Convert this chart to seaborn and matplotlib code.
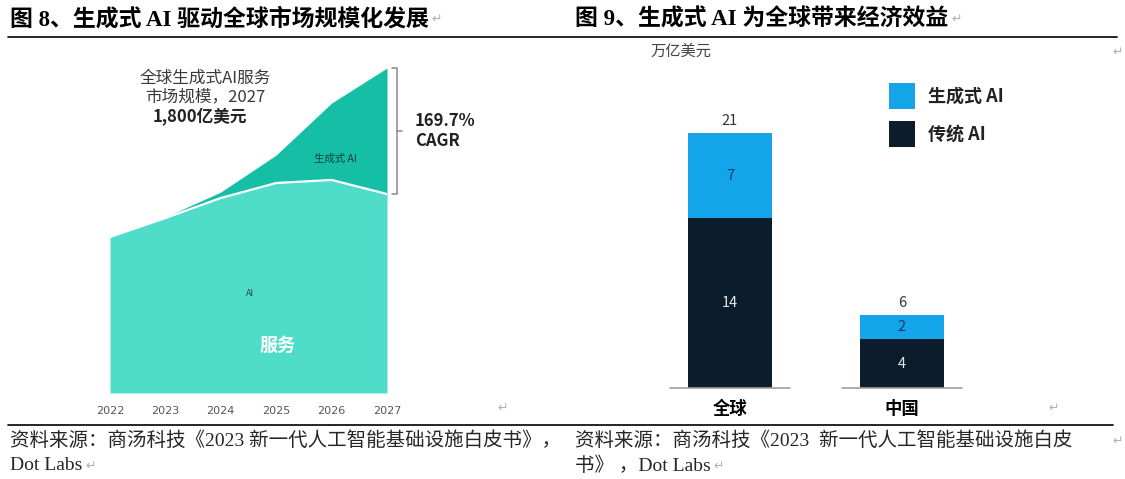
import matplotlib
matplotlib.use("Agg")
import matplotlib.pyplot as plt
from matplotlib.patches import Rectangle
import seaborn as sns
import pandas as pd

# ---------------- data ----------------
years = [2022, 2023, 2024, 2025, 2026, 2027]
service_ai = [864, 969, 1080, 1163, 1180, 1102]      # 亿美元 (AI 服务, lower layer)
generative_ai = [0, 6, 33, 155, 426, 698]            # 亿美元 (生成式 AI, upper layer)

regions = ["全球", "中国"]
traditional = [14, 4]      # 万亿美元
generative = [7, 2]        # 万亿美元
legend_labels = ["生成式 AI", "传统 AI"]

title_left = "图 8、生成式 AI 驱动全球市场规模化发展"
title_right = "图 9、生成式 AI 为全球带来经济效益"
source_left = ["资料来源：商汤科技《2023 新一代人工智能基础设施白皮书》，", "Dot Labs"]
source_right = ["资料来源：商汤科技《2023  新一代人工智能基础设施白皮", "书》 ，Dot Labs"]

# ---------------- style ----------------
sns.set_theme(style="white")
plt.rcParams["font.family"] = ["Noto Sans CJK SC", "DejaVu Sans"]

W, H = 1125, 479
fig = plt.figure(figsize=(W / 100, H / 100), dpi=100)
fig.patch.set_facecolor("white")

def fx(px):
    return px / W

def fy(py):
    return 1 - py / H

TITLE_FAM = ["Liberation Serif", "Noto Sans CJK SC"]
SRC_FAM = ["Liberation Serif", "Noto Sans CJK SC"]
ARROW_COL = "#b0b0b0"

def para_mark(artist, dx=2):
    plt.annotate("\u21b5", xy=(1, 0.5), xycoords=artist, xytext=(dx, 0),
                 textcoords="offset points", family=["DejaVu Sans"], fontsize=9,
                 color=ARROW_COL, va="center", ha="left", annotation_clip=False)

def free_mark(px, py):
    fig.text(fx(px), fy(py), "\u21b5", family=["DejaVu Sans"], fontsize=9, color=ARROW_COL,
             va="center", ha="left")

# titles and rules
t1 = fig.text(fx(10), fy(19), title_left, family=TITLE_FAM, fontsize=16.5, fontweight="bold",
              va="center", ha="left", color="black")
t2 = fig.text(fx(575), fy(19), title_right, family=TITLE_FAM, fontsize=16.5, fontweight="bold",
              va="center", ha="left", color="black")
fig.add_artist(plt.Line2D([fx(8), fx(1117)], [fy(37), fy(37)], color="black", lw=1.2))
fig.add_artist(plt.Line2D([fx(8), fx(1113)], [fy(425), fy(425)], color="black", lw=1.2))

# sources
s1 = fig.text(fx(10), fy(441), source_left[0], family=SRC_FAM, fontsize=14, va="center", ha="left")
s2 = fig.text(fx(10), fy(466), source_left[1], family=SRC_FAM, fontsize=14, va="center", ha="left")
s3 = fig.text(fx(575), fy(441), source_right[0], family=SRC_FAM, fontsize=14, va="center", ha="left")
s4 = fig.text(fx(575), fy(466), source_right[1], family=SRC_FAM, fontsize=14, va="center", ha="left")

# ---------------- left: stacked area ----------------
C_LO = "#4FDCC9"
C_HI = "#15BFA6"
axL = fig.add_axes([fx(110), 1 - 393 / H, 277 / W, 325 / H])
total = [s + g for s, g in zip(service_ai, generative_ai)]
axL.fill_between(years, 0, service_ai, color=C_LO, lw=0)
axL.fill_between(years, service_ai, total, color=C_HI, lw=0)
sns.lineplot(x=years, y=service_ai, ax=axL, color="white", lw=1.6)
axL.set_xlim(years[0], years[-1])
axL.set_ylim(0, 1800)
axL.set_xticks(years)
axL.set_xticklabels([str(y) for y in years], fontsize=8, color="#555555", family=["DejaVu Sans"])
axL.tick_params(axis="x", length=0, pad=9)
axL.set_yticks([])
for sp in axL.spines.values():
    sp.set_visible(False)
axL.patch.set_alpha(0)

def lx(px):
    return years[0] + (px - 110) / 277 * (years[-1] - years[0])

def ly(py):
    return (393 - py) / 325 * 1800

# bracket for CAGR
bx = lx(397)
axL.plot([lx(392), bx, bx, lx(392)], [total[-1], total[-1], service_ai[-1], service_ai[-1]],
         color="#8a8a8a", lw=1.1, clip_on=False)
mid = (total[-1] + service_ai[-1]) / 2
axL.plot([bx, lx(402)], [mid, mid], color="#8a8a8a", lw=1.1, clip_on=False)
axL.text(lx(415), mid, "169.7%\nCAGR", fontsize=12, fontweight="bold", color="#222222",
         ha="left", va="center", linespacing=1.15, clip_on=False)

# annotation
axL.text(lx(205), ly(78), "全球生成式AI服务", fontsize=12, color="#3a3a3a", ha="center", va="center")
axL.text(lx(205), ly(97), "市场规模，2027", fontsize=12, color="#3a3a3a", ha="center", va="center")
axL.text(lx(200), ly(117), "1,800亿美元", fontsize=12, fontweight="bold", color="#222222",
         ha="center", va="center")
axL.text(lx(335), ly(159), "生成式 AI", fontsize=7.5, color="#17403a", ha="center", va="center")
axL.text(lx(250), ly(293), "AI", fontsize=6.5, color="#2a4a45", ha="center", va="center")
axL.text(lx(278), ly(345), "服务", fontsize=13, fontweight="bold", color="white",
         ha="center", va="center")

# ---------------- right: stacked bars ----------------
C_GEN = "#14A4EA"
C_TRA = "#0B1C2C"
df = pd.DataFrame({"region": regions, "traditional": traditional, "generative": generative})
df["total"] = df["traditional"] + df["generative"]

axR = fig.add_axes([fx(644), 1 - 388 / H, 344 / W, 255 / H])
sns.barplot(data=df, x="region", y="total", color=C_GEN, width=0.49, ax=axR,
            saturation=1, edgecolor="none")
sns.barplot(data=df, x="region", y="traditional", color=C_TRA, width=0.49, ax=axR,
            saturation=1, edgecolor="none")
axR.set_xlim(-0.5, 1.5)
axR.set_ylim(0, 21)
axR.set_xlabel("")
axR.set_ylabel("")
axR.set_yticks([])
axR.tick_params(axis="x", length=0, pad=9)
axR.set_xticks(range(len(regions)))
axR.set_xticklabels(regions, fontsize=12.5, fontweight="bold", color="black")
for sp in axR.spines.values():
    sp.set_visible(False)
axR.patch.set_alpha(0)
for i in range(len(regions)):
    axR.plot([i - 0.35, i + 0.35], [0, 0], color="#a0a0a0", lw=1.2, clip_on=False)
    tr = df["traditional"][i]
    ge = df["generative"][i]
    tot = df["total"][i]
    axR.text(i, tr / 2, f"{tr}", ha="center", va="center", fontsize=10.5, color="#e8e8e8")
    axR.text(i, tr + ge / 2, f"{ge}", ha="center", va="center", fontsize=10.5, color="#173a6a")
    axR.text(i, tot + 0.45, f"{tot}", ha="center", va="bottom", fontsize=10.5, color="#333333")

fig.text(fx(650), fy(51), "万亿美元", fontsize=11, color="#444444", va="center", ha="left")

# legend (manual keys)
for (col, lab, top) in [(C_GEN, legend_labels[0], 83), (C_TRA, legend_labels[1], 121)]:
    fig.add_artist(Rectangle((fx(889), fy(top + 26)), 26 / W, 26 / H, facecolor=col,
                             edgecolor="none", transform=fig.transFigure))
    fig.text(fx(928), fy(top + 13), lab, fontsize=13, fontweight="bold", color="#222222",
             va="center", ha="left")

# paragraph marks
para_mark(t1)
para_mark(t2)
para_mark(s2)
para_mark(s4)
for (px, py) in [(497, 408), (1048, 408), (1112, 52), (1112, 441)]:
    free_mark(px, py)

fig.savefig("out.png", dpi=100, facecolor="white")
